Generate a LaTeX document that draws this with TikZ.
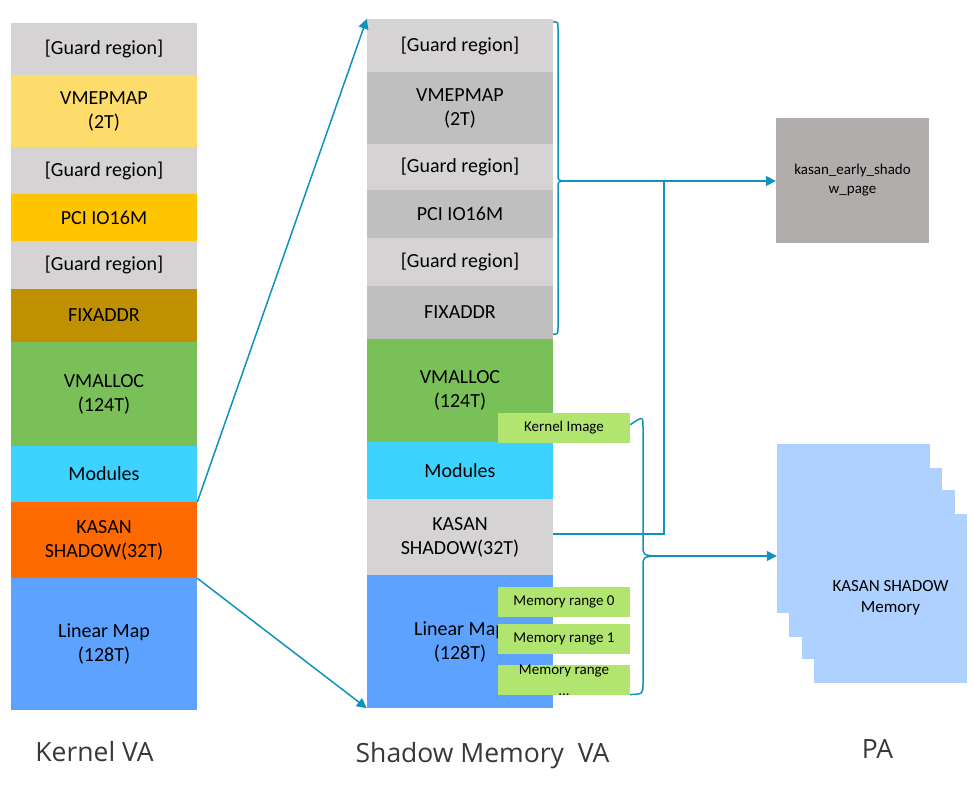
\documentclass[tikz,border=0pt]{standalone}
\usepackage{fontspec}
\setmainfont{Carlito}
\newfontfamily\labelfont{Open Sans}
\usetikzlibrary{arrows.meta}
\definecolor{guardc}{HTML}{D5D3D4}
\definecolor{darkg}{HTML}{BFBFBF}
\definecolor{vmemc}{HTML}{FEDC6C}
\definecolor{pcic}{HTML}{FFC500}
\definecolor{fixc}{HTML}{BF9100}
\definecolor{vmallc}{HTML}{7AC058}
\definecolor{modc}{HTML}{3DD2FF}
\definecolor{kasanc}{HTML}{FF6A00}
\definecolor{linc}{HTML}{5DA2FF}
\definecolor{lgreen}{HTML}{B2E56F}
\definecolor{pagray}{HTML}{B1ADAC}
\definecolor{pablue}{HTML}{AFD1FF}
\definecolor{arrc}{HTML}{0E93BF}
\definecolor{labc}{HTML}{383838}
\tikzset{
  seg/.style={inner sep=0pt, minimum width=186pt, align=center, text=black,
    font=\fontsize{20}{24}\selectfont},
  tag/.style={fill=lgreen, inner sep=0pt, minimum width=132pt, minimum height=30pt,
    align=center, font=\fontsize{15}{21}\selectfont},
  page/.style={fill=pablue, inner sep=0pt, minimum width=153pt, minimum height=169pt,
    align=center, font=\fontsize{17}{21}\selectfont},
  conn/.style={draw=arrc, line width=1.5pt},
  arr/.style={conn, -{Triangle[length=10pt, width=10pt]}},
  collab/.style={font=\labelfont\fontsize{26.5}{30}\selectfont, text=labc, anchor=base}
}
\begin{document}
\begin{tikzpicture}[x=1pt, y=-1pt]
\path[use as bounding box] (0,0) rectangle (973,786);
% Kernel VA column
\node[seg, fill=guardc, minimum height=52pt] (kg1) at (104,49) {[Guard region]};
\node[seg, fill=vmemc, minimum height=72pt] (kvm) at (104,111) {VMEPMAP\\(2T)};
\node[seg, fill=guardc, minimum height=47pt] (kg2) at (104,170.5) {[Guard region]};
\node[seg, fill=pcic, minimum height=47pt] (kpci) at (104,217.5) {PCI IO16M};
\node[seg, fill=guardc, minimum height=48pt] (kg3) at (104,265) {[Guard region]};
\node[seg, fill=fixc, minimum height=53pt] (kfix) at (104,315.5) {FIXADDR};
\node[seg, fill=vmallc, minimum height=104pt] (kvmal) at (104,394) {VMALLOC\\(124T)};
\node[seg, fill=modc, minimum height=56pt] (kmod) at (104,474) {Modules};
\node[seg, fill=kasanc, minimum height=76pt] (kkasan) at (104,540) {KASAN\\SHADOW(32T)};
\node[seg, fill=linc, minimum height=132pt] (klin) at (104,644) {Linear Map\\(128T)};
% Shadow memory column
\node[seg, fill=guardc, minimum height=53pt] (sg1) at (460,45.5) {[Guard region]};
\node[seg, fill=darkg, minimum height=72pt] (svm) at (460,108) {VMEPMAP\\(2T)};
\node[seg, fill=guardc, minimum height=46pt] (sg2) at (460,167) {[Guard region]};
\node[seg, fill=darkg, minimum height=48pt] (spci) at (460,214) {PCI IO16M};
\node[seg, fill=guardc, minimum height=48pt] (sg3) at (460,262) {[Guard region]};
\node[seg, fill=darkg, minimum height=53pt] (sfix) at (460,312.5) {FIXADDR};
\node[seg, fill=vmallc, minimum height=103pt] (svmal) at (460,390.5) {VMALLOC\\(124T)};
\node[seg, fill=modc, minimum height=57pt] (smod) at (460,470.5) {Modules};
\node[seg, fill=guardc, minimum height=76pt] (skasan) at (460,537) {KASAN\\SHADOW(32T)};
\node[seg, fill=linc, minimum height=133pt] (slin) at (460,641.5) {Linear Map\\(128T)};
% tags
\node[tag] (kimg) at (564,428) {Kernel Image};
\node[tag] (mr0) at (564,602) {Memory range 0};
\node[tag] (mr1) at (564,639) {Memory range 1};
\node[tag] (mr2) at (564,680) {Memory range\\...};
% PA
\node[fill=pagray, inner sep=0pt, minimum width=153pt, minimum height=125pt, align=center,
  font=\fontsize{15}{19}\selectfont] (pag) at (852.5,180.5) {kasan\_early\_shado\\w\_page};
\node[page] (p1) at (853.5,528.5) {};
\node[page] (p2) at (865.5,552) {};
\node[page] (p3) at (878.5,574.5) {};
\node[page] (p4) at (890.5,598) {KASAN SHADOW\\Memory};
% mapping arrows
\draw[arr] (kmod.south east) -- (sg1.north west);
\draw[arr] (kkasan.south east) -- (slin.south west);
% upper brace
\coordinate (bt1) at (563,181);
\coordinate (j1) at (664,181);
\draw[conn, line join=round] ([yshift=-3pt]sg1.north east) .. controls (558,22) .. (558,28)
  -- (558,175) .. controls (558,180) .. (bt1) .. controls (558,182) .. (558,187)
  -- (558,328) .. controls (558,334) .. ([yshift=5pt]sfix.south east);
\draw[arr] (bt1) -- (pag.west |- bt1);
\draw[conn] ([yshift=3pt]skasan.east) -| (j1);
% lower brace
\coordinate (bt2) at (655,556);
\draw[conn, line join=round] ([yshift=-12pt]kimg.north east) .. controls (643,416) .. (643,428)
  -- (643,545) .. controls (643,555) .. (bt2) .. controls (643,557) .. (643,567)
  -- (643,683) .. controls (643,694) .. ([yshift=1pt]mr2.south east);
\draw[arr] (bt2) -- (p1.west |- bt2);
% column labels
\node[collab] (lk) at (94.5,761) {Kernel VA};
\node[collab] (ls) at (482.5,762) {Shadow Memory\ \ VA};
\node[collab] (lp) at (877.5,758) {PA};
\end{tikzpicture}
\end{document}
